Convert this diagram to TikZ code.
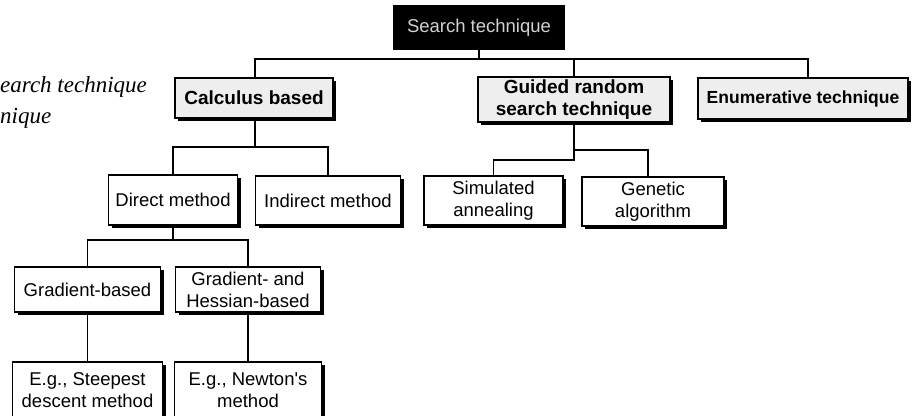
\documentclass[tikz,border=0pt]{standalone}
\usepackage{fontspec}
\setmainfont{Liberation Sans}[Ligatures=TeXOff]
\newfontfamily\serifit{Liberation Serif}
\usetikzlibrary{shadows}
\begin{document}
\begin{tikzpicture}[x=1pt,y=-1pt,
  box/.style={draw=black, line width=1.8pt, fill=white, align=center,
    inner sep=2pt, outer sep=0pt,
    font=\fontsize{18.5}{22}\selectfont,
    drop shadow={shadow xshift=3pt, shadow yshift=-3pt, fill=black, opacity=1}},
  topbox/.style={box, fill=gray!13, font=\fontsize{19}{22}\selectfont\bfseries},
  rootbox/.style={fill=black, text=gray!35, align=center, inner sep=0pt,
    minimum width=172pt, minimum height=45pt,
    font=\fontsize{18.5}{22}\selectfont},
  link/.style={line width=1.4pt, draw=black},
  margintext/.style={anchor=base west, inner sep=0pt,
    font=\serifit\itshape\fontsize{23}{26}\selectfont}
]
\useasboundingbox (0,0) rectangle (920,415);

% cut-off running text on the left
\node[margintext] (mt1) at (0,92) {earch technique};
\node[margintext] (mt2) at (0,123) {nique};

% root
\node[rootbox] (root) at (479,27.5) {Search technique};

% first level
\node[topbox, minimum width=158pt, minimum height=40pt] (calc) at (254,98) {Calculus based};
\node[topbox, minimum width=192pt, minimum height=45pt] (guided) at (574,99.5) {Guided random\\search technique};
\node[topbox, minimum width=210pt, minimum height=41pt,
  font=\fontsize{17.5}{22}\selectfont\bfseries] (enum) at (803,98.5) {Enumerative technique};

% calculus based branch
\node[box, minimum width=129pt, minimum height=50pt] (direct) at (173,200) {Direct method};
\node[box, minimum width=145pt, minimum height=49pt] (indirect) at (328,200.5) {Indirect method};
\node[box, minimum width=146pt, minimum height=45pt] (gradb) at (87.5,289.5) {Gradient-based};
\node[box, minimum width=145pt, minimum height=45pt] (hess) at (248,289.5) {Gradient- and\\Hessian-based};
\node[box, minimum width=150pt, minimum height=56pt] (steep) at (87.5,390) {E.g., Steepest\\descent method};
\node[box, minimum width=147pt, minimum height=56pt] (newton) at (248,390) {E.g., Newton's\\method};

% guided random branch
\node[box, minimum width=139pt, minimum height=49pt] (sim) at (493.5,200.5) {Simulated\\annealing};
\node[box, minimum width=142pt, minimum height=49pt] (gen) at (653,201.5) {Genetic\\algorithm};

% connectors
\coordinate (rootbus) at (479,59);
\draw[link] (root.south) -- (rootbus);
\draw[link] (rootbus) -| ([xshift=1pt]calc.north);
\draw[link] (rootbus) -| (guided.north);
\draw[link] (rootbus) -| ([xshift=5pt]enum.north);

\draw[link] ([xshift=1pt]calc.south) -- ++(0,29) -| (direct.north);
\draw[link] ([xshift=1pt]calc.south) ++(0,29) -| (indirect.north);

\draw[link] (direct.south) -- ++(0,15) -| (gradb.north);
\draw[link] (direct.south) ++(0,15) -| (hess.north);

\draw[link] (gradb.south) -- (steep.north);
\draw[link] (hess.south) -- (newton.north);

\coordinate (gj) at (574,150);
\draw[link] (guided.south) -- ++(0,38) -| (sim.north);
\draw[link] (gj) -| ([xshift=-5pt]gen.north);
\end{tikzpicture}
\end{document}
